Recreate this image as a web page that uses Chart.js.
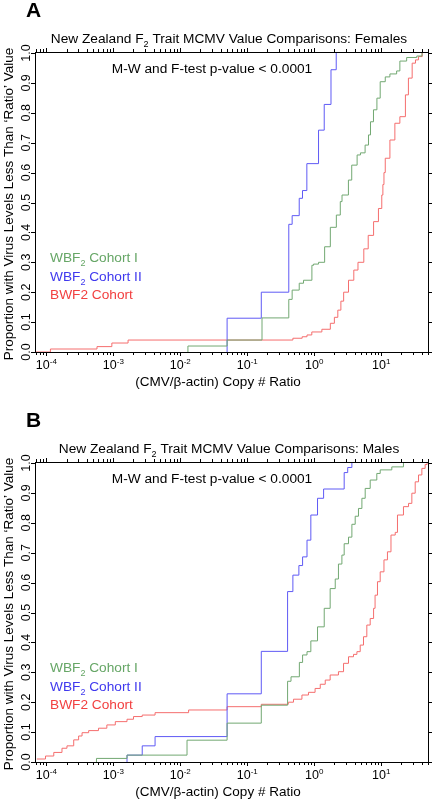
<!DOCTYPE html>
<html lang="en">
<head>
<meta charset="UTF-8">
<title>New Zealand F2 Trait MCMV Value Comparisons</title>
<script src="https://cdn.jsdelivr.net/npm/chart.js@4.4.1/dist/chart.umd.min.js"></script>
<style>
  body { margin: 0; background: #fff; overflow: hidden; }
  canvas { position: absolute; left: 0; }
</style>
</head>
<body>
<canvas id="females" width="432" height="410" style="top:0"></canvas>
<canvas id="males" width="432" height="410" style="top:410px"></canvas>
<script>
// ECDF step points (x = CMV/beta-actin ratio, y = proportion)
const femGreenX = [0.013, 0.013, 0.05, 0.166, 0.417, 0.468, 0.597, 0.692, 0.923, 0.977, 1.16, 1.43, 1.74, 2.14, 2.45, 2.6, 3.24, 3.63, 4.37, 4.9, 5.75, 6.46, 6.92, 7.67, 8.63, 9.66, 11.5, 13.5, 17, 19, 24, 34, 40.7];
const femGreenY = [0, 0.02, 0.04, 0.114, 0.176, 0.207, 0.23, 0.24, 0.29, 0.294, 0.30, 0.352, 0.417, 0.458, 0.503, 0.525, 0.575, 0.625, 0.659, 0.666, 0.692, 0.726, 0.77, 0.81, 0.849, 0.904, 0.92, 0.93, 0.94, 0.973, 0.985, 0.99, 1.0];

const femBlueX = [0.05, 0.05, 0.162, 0.417, 0.468, 0.597, 0.668, 0.776, 1.16, 1.41, 1.78, 2.13];
const femBlueY = [0, 0.113, 0.2, 0.427, 0.456, 0.514, 0.54, 0.63, 0.742, 0.828, 0.944, 1.0];

const femRedX = [7e-5, 1.15e-4, 5.7e-4, 9.5e-4, 1.66e-3, 0.48, 0.66, 0.78, 0.92, 1.3, 1.74, 2.0, 2.25, 2.5, 2.75, 3.25, 3.9, 4.5, 5.5, 6.4, 7.7, 9.1, 10.2, 10.6, 11.0, 11.5, 13.5, 16, 19, 23, 25.5, 29, 32.5, 36, 41];
const femRedY = [0, 0.01, 0.018, 0.03, 0.04, 0.046, 0.051, 0.057, 0.067, 0.076, 0.096, 0.116, 0.14, 0.17, 0.2, 0.24, 0.274, 0.30, 0.345, 0.39, 0.436, 0.48, 0.525, 0.56, 0.6, 0.648, 0.709, 0.765, 0.787, 0.86, 0.916, 0.966, 0.977, 0.988, 1.0];

const maleGreenX = [5.6e-4, 5.6e-4, 1.6e-3, 0.0126, 0.05, 0.162, 0.4, 0.45, 0.6, 0.67, 0.78, 0.89, 1.12, 1.41, 1.73, 2.06, 2.3, 2.59, 2.8, 3.25, 3.65, 4.09, 4.58, 5.15, 5.77, 6.85, 8.6, 9.66, 14.4, 21.5];
const maleGreenY = [0, 0.012, 0.023, 0.073, 0.13, 0.19, 0.27, 0.285, 0.333, 0.358, 0.369, 0.405, 0.452, 0.514, 0.58, 0.612, 0.662, 0.692, 0.73, 0.752, 0.795, 0.822, 0.848, 0.882, 0.915, 0.943, 0.965, 0.977, 0.987, 1.0];

const maleBlueX = [1.6e-3, 1.6e-3, 2.7e-3, 4.2e-3, 0.05, 0.162, 0.4, 0.48, 0.59, 0.67, 0.78, 0.89, 1.12, 1.38, 2.8, 3.16, 3.65];
const maleBlueY = [0, 0.023, 0.054, 0.085, 0.228, 0.37, 0.57, 0.625, 0.657, 0.686, 0.742, 0.826, 0.882, 0.913, 0.968, 0.985, 1.0];

const maleRedX = [7.2e-5, 9.7e-5, 1.29e-4, 1.71e-4, 2.03e-4, 2.56e-4, 3.03e-4, 3.41e-4, 4.28e-4, 6.0e-4, 8.0e-4, 1.07e-3, 1.6e-3, 2.0e-3, 2.7e-3, 4.2e-3, 0.0133, 0.05, 0.162, 0.41, 0.49, 0.655, 0.82, 1.03, 1.23, 1.46, 1.73, 2.3, 2.74, 3.25, 3.86, 4.34, 4.86, 5.44, 6.1, 6.85, 7.7, 8.1, 8.8, 9.66, 11.0, 12.4, 14.0, 16.2, 17.5, 21.5, 25.6, 28.7, 32.2, 36.1, 40.5, 45.3, 48.5];
const maleRedY = [0.01, 0.02, 0.032, 0.046, 0.054, 0.074, 0.087, 0.098, 0.105, 0.113, 0.124, 0.135, 0.143, 0.152, 0.157, 0.165, 0.174, 0.185, 0.193, 0.2, 0.21, 0.224, 0.233, 0.246, 0.26, 0.274, 0.291, 0.302, 0.33, 0.352, 0.36, 0.369, 0.391, 0.419, 0.458, 0.48, 0.514, 0.558, 0.603, 0.636, 0.676, 0.703, 0.759, 0.768, 0.826, 0.854, 0.865, 0.899, 0.937, 0.96, 0.982, 0.995, 1.0];

const seriesNames = ['WBF2 Cohort I', 'WBF2 Cohort II', 'BWF2 Cohort'];
const lineColors = ['#72a872', '#5f5af5', '#f56e6e'];
const textColors = ['#66a666', '#3f38ee', '#f24040'];
const yTicks = ['0.0', '0.1', '0.2', '0.3', '0.4', '0.5', '0.6', '0.7', '0.8', '0.9', '1.0'];
const xExponents = [-4, -3, -2, -1, 0, 1];

const FONT = '"Liberation Sans", Arial, sans-serif';

// draws text pieces, some as sub/superscript
function rich(ctx, parts, x, y, size, align) {
  let w = 0;
  parts.forEach(p => {
    ctx.font = (p.sub || p.sup ? Math.round(size * 0.65) : size) + 'px ' + FONT;
    p.w = ctx.measureText(p.t).width;
    w += p.w;
  });
  let cx = align === 'center' ? x - w / 2 : x;
  ctx.textAlign = 'left';
  parts.forEach(p => {
    ctx.font = (p.sub || p.sup ? Math.round(size * 0.65) : size) + 'px ' + FONT;
    const dy = p.sub ? size * 0.32 : p.sup ? -size * 0.42 : 0;
    ctx.fillText(p.t, cx, y + dy);
    cx += p.w;
  });
}

function makeDecor(letter, sex) {
  return {
    id: 'decor',
    afterDraw(chart) {
      const { ctx, chartArea: a, scales: { x, y } } = chart;
      ctx.save();
      ctx.strokeStyle = '#000';
      ctx.fillStyle = '#000';
      ctx.lineWidth = 1;
      ctx.strokeRect(a.left - 0.5, a.top - 0.5, a.right - a.left + 1, a.bottom - a.top + 1);

      // log ticks top and bottom
      ctx.beginPath();
      for (let e = -5; e <= 1; e++) {
        for (let m = 1; m <= 9; m++) {
          const v = m * Math.pow(10, e);
          if (v < x.min || v > x.max) continue;
          const px = Math.round(x.getPixelForValue(v)) + 0.5;
          const len = m === 1 ? 4 : 3;
          ctx.moveTo(px, a.bottom); ctx.lineTo(px, a.bottom + len);
          ctx.moveTo(px, a.top - 1); ctx.lineTo(px, a.top - 1 - len);
        }
      }
      // y ticks left and right
      yTicks.forEach((t, i) => {
        const py = Math.round(y.getPixelForValue(i / 10)) + 0.5;
        ctx.moveTo(a.left - 1, py); ctx.lineTo(a.left - 5, py);
        ctx.moveTo(a.right, py); ctx.lineTo(a.right + 4, py);
      });
      ctx.stroke();

      // y tick labels (rotated)
      ctx.font = '12.5px ' + FONT;
      ctx.textAlign = 'center';
      yTicks.forEach((t, i) => {
        const py = y.getPixelForValue(i / 10);
        ctx.save();
        ctx.translate(29.5, py);
        ctx.rotate(-Math.PI / 2);
        ctx.fillText(t, 0, 0);
        ctx.restore();
      });

      // x tick labels 10^n
      xExponents.forEach(e => {
        const px = x.getPixelForValue(Math.pow(10, e));
        rich(ctx, [{ t: '10' }, { t: String(e), sup: true }], px, 369, 12.5, 'center');
      });

      // axis titles
      ctx.font = '13.5px ' + FONT;
      ctx.textAlign = 'center';
      ctx.fillText('(CMV/\u03b2-actin) Copy # Ratio', 218, 386);
      ctx.save();
      ctx.translate(13, 204);
      ctx.rotate(-Math.PI / 2);
      ctx.fillText('Proportion with Virus Levels Less Than \u2018Ratio\u2019 Value', 0, 0);
      ctx.restore();

      // chart title
      rich(ctx, [{ t: 'New Zealand F' }, { t: '2', sub: true }, { t: ' Trait MCMV Value Comparisons: ' + sex }], 229, 43, 13.7, 'center');
      // test annotation
      rich(ctx, [{ t: 'M-W and F-test p-value < 0.0001' }], 212, 73, 13.7, 'center');

      // legend text
      const legendY = [262, 280.5, 299];
      ctx.fillStyle = textColors[0];
      rich(ctx, [{ t: 'WBF' }, { t: '2', sub: true }, { t: ' Cohort I' }], 50, legendY[0], 13.7, 'left');
      ctx.fillStyle = textColors[1];
      rich(ctx, [{ t: 'WBF' }, { t: '2', sub: true }, { t: ' Cohort II' }], 50, legendY[1], 13.7, 'left');
      ctx.fillStyle = textColors[2];
      rich(ctx, [{ t: seriesNames[2] }], 50, legendY[2], 13.7, 'left');

      // panel letter
      ctx.fillStyle = '#000';
      ctx.font = 'bold 21px ' + FONT;
      ctx.textAlign = 'left';
      ctx.fillText(letter, 26, 17);
      ctx.restore();
    }
  };
}

function toPoints(xs, ys) {
  return xs.map((v, i) => ({ x: v, y: ys[i] }));
}

function makeChart(id, letter, sex, sets) {
  new Chart(document.getElementById(id), {
    type: 'line',
    data: {
      datasets: sets.map((s, i) => ({
        label: seriesNames[i],
        data: toPoints(s[0], s[1]),
        borderColor: lineColors[i],
        borderWidth: 1,
        pointRadius: 0,
        stepped: 'before',
        fill: false
      }))
    },
    options: {
      responsive: false,
      animation: false,
      devicePixelRatio: 1,
      layout: { padding: { left: 36, right: 4, top: 53, bottom: 58 } },
      plugins: { legend: { display: false }, tooltip: { enabled: false } },
      scales: {
        x: { type: 'logarithmic', min: 7e-5, max: 50, display: false },
        y: { type: 'linear', min: 0, max: 1, display: false }
      }
    },
    plugins: [makeDecor(letter, sex)]
  });
}

makeChart('females', 'A', 'Females', [[femGreenX, femGreenY], [femBlueX, femBlueY], [femRedX, femRedY]]);
makeChart('males', 'B', 'Males', [[maleGreenX, maleGreenY], [maleBlueX, maleBlueY], [maleRedX, maleRedY]]);
</script>
</body>
</html>
